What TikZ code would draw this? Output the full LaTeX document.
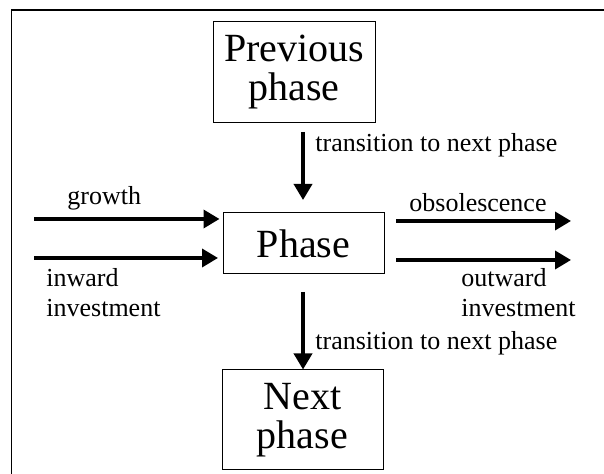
\documentclass[tikz,border=0pt]{standalone}
\usepackage{fontspec}
\setmainfont{Liberation Serif}
\usetikzlibrary{arrows.meta}

\begin{document}
\begin{tikzpicture}[x=0.5pt, y=-0.5pt,
        phasebox/.style={draw=black, line width=0.5pt, inner sep=0pt, align=center, font=\fontsize{20}{19.5}\selectfont},
        flow/.style={line width=1.75pt, -{Triangle[length=8pt,width=9pt]}},
        lbl/.style={inner sep=0pt, anchor=base west, align=left, font=\fontsize{13}{15}\selectfont}]
        \clip (0,0) rectangle (604,474);
        \draw[line width=0.9pt] (11.5,10) rectangle (720,600);

        \node[phasebox, minimum width=81pt, minimum height=50.5pt](prev) at (294,72.5) {Previous\\phase};
        \node[phasebox, minimum width=80.5pt, minimum height=30.5pt](phase) at (303.5,243.5) {Phase};
        \node[phasebox, minimum width=80.5pt, minimum height=50pt](next) at (302.5,420) {Next\\phase};

        % vertical transitions
        \coordinate (down-a) at (303,132);
        \coordinate (down-b) at (303,200);
        \coordinate (down-c) at (303,292);
        \draw[flow] (down-a) -- (down-b);
        \draw[flow] (down-c) -- (down-c |- next.north);
        \node[lbl](trans-top) at (315,152) {transition to next phase};
        \node[lbl](trans-bot) at (315,350) {transition to next phase};

        % flows in and out
        \coordinate (grow-s) at (34,219);
        \coordinate (grow-e) at (219.5,219);
        \coordinate (inv-s) at (34,258);
        \coordinate (inv-e) at (218,258);
        \coordinate (obs-s) at (396,221);
        \coordinate (obs-e) at (571,221);
        \coordinate (out-s) at (396,260);
        \coordinate (out-e) at (571,260);
        \foreach \a in {grow,inv,obs,out} {
                \draw[flow] (\a-s) -- (\a-e);
            }
        \node[lbl](growth) at (67,205) {growth};
        \node[lbl](inward) at (46,317) {inward\\investment};
        \node[lbl](obsolescence) at (409,212) {obsolescence};
        \node[lbl](outward) at (461,317) {outward\\investment};
    \end{tikzpicture}
\end{document}
